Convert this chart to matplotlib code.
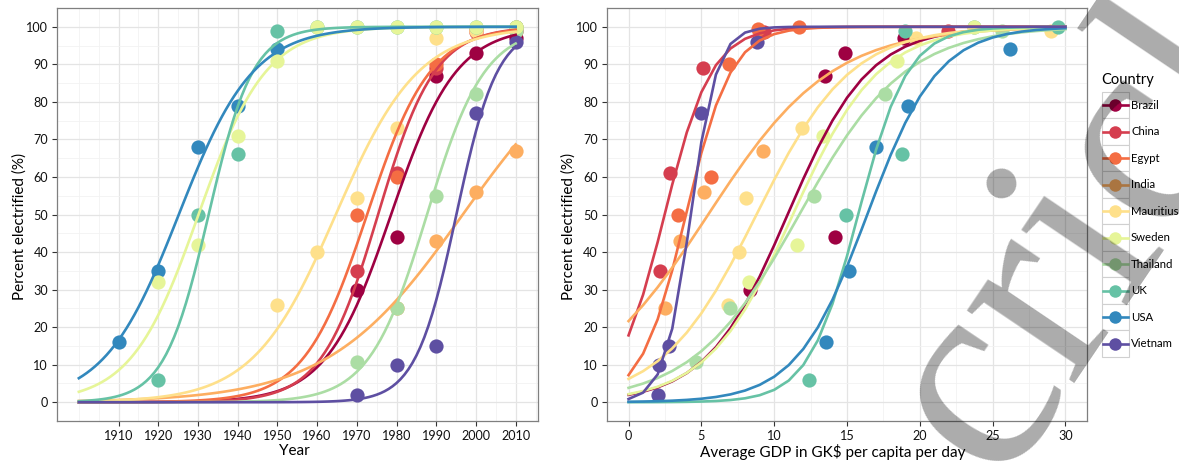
import numpy as np
import pandas as pd
import matplotlib
matplotlib.use("Agg")
import matplotlib.pyplot as plt
from matplotlib.patches import Rectangle
from matplotlib.lines import Line2D

countries = ["Brazil", "China", "Egypt", "India", "Mauritius", "Sweden",
             "Thailand", "UK", "USA", "Vietnam"]
palette = ["#9E0142", "#D53E4F", "#F46D43", "#FDAE61", "#FEE08B", "#E6F598",
           "#ABDDA4", "#66C2A5", "#3288BD", "#5E4FA2"]

# long format: one row per country-decade
country = (["Brazil"] * 5 + ["China"] * 5 + ["Egypt"] * 5 + ["India"] * 4
           + ["Mauritius"] * 7 + ["Sweden"] * 10 + ["Thailand"] * 5
           + ["UK"] * 10 + ["USA"] * 5 + ["Vietnam"] * 5)
year = ([1970, 1980, 1990, 2000, 2010]
        + [1970, 1980, 1990, 2000, 2010]
        + [1970, 1980, 1990, 2000, 2010]
        + [1980, 1990, 2000, 2010]
        + [1950, 1960, 1970, 1980, 1990, 2000, 2010]
        + [1920, 1930, 1940, 1950, 1960, 1970, 1980, 1990, 2000, 2010]
        + [1970, 1980, 1990, 2000, 2010]
        + [1920, 1930, 1940, 1950, 1960, 1970, 1980, 1990, 2000, 2010]
        + [1910, 1920, 1930, 1940, 1950]
        + [1970, 1980, 1990, 2000, 2010])
pct = ([30, 44, 87, 93, 97]
       + [35, 61, 89, 98.5, 99]
       + [50, 60, 90, 99.5, 100]
       + [25, 43, 56, 67]
       + [26, 40, 54.5, 73, 97, 99, 100]
       + [32, 42, 71, 91, 100, 100, 100, 100, 100, 100]
       + [10.8, 25, 55, 82, 99]
       + [6, 50, 66, 99, 100, 100, 100, 100, 100, 100]
       + [16, 35, 68, 79, 94]
       + [2, 10, 15, 77, 96])
gdp = ([8.35, 14.2, 13.5, 14.83, 18.9]
       + [2.13, 2.86, 5.1, 9.33, 21.96]
       + [3.43, 5.68, 6.89, 8.88, 11.67]
       + [2.52, 3.55, 5.15, 9.22]
       + [6.8, 7.6, 8.06, 11.94, 19.75, 29.0, np.nan]
       + [8.24, 11.6, 13.34, 18.44, 23.75, np.nan, np.nan, np.nan, np.nan, np.nan]
       + [4.65, 6.98, 12.7, 17.62, 25.67]
       + [12.42, 14.9, 18.76, 19.0, 23.7, 29.5, np.nan, np.nan, np.nan, np.nan]
       + [13.57, 15.17, 17.0, 19.2, 26.2]
       + [2.02, 2.06, 2.79, 4.99, 8.81])

df = pd.DataFrame({"country": country, "year": year, "pct": pct, "gdp": gdp})


def fit_logistic(x, p):
    # binomial glm with logit link, fitted by IRLS
    x = np.asarray(x, float)
    p = np.asarray(p, float) / 100.0
    xm = x.mean()
    X = np.column_stack([np.ones_like(x), x - xm])
    beta = np.zeros(2)
    for _ in range(100):
        eta = X @ beta
        mu = 1 / (1 + np.exp(-eta))
        w = np.clip(mu * (1 - mu), 1e-9, None)
        z = eta + (p - mu) / w
        beta = np.linalg.solve(X.T @ (X * w[:, None]), X.T @ (w * z))
    return lambda t: 100 / (1 + np.exp(-(beta[0] + beta[1] * (np.asarray(t) - xm))))


plt.rcParams["font.family"] = "Lato"
W, H = 1179, 463
fig = plt.figure(figsize=(W / 100, H / 100), dpi=100)


def px_axes(x0, y0, x1, y1):
    return fig.add_axes([x0 / W, 1 - y1 / H, (x1 - x0) / W, (y1 - y0) / H])


def style(ax, xmajor, xminor):
    ax.set_ylim(-5, 105)
    ax.set_yticks(range(0, 101, 10))
    ax.set_yticks(np.arange(-5, 106, 10), minor=True)
    ax.set_xticks(xmajor)
    ax.set_xticks(xminor, minor=True)
    ax.grid(which="major", color="#e4e4e4", lw=0.9)
    ax.grid(which="minor", color="#f2f2f2", lw=0.6)
    ax.set_axisbelow(True)
    for s in ax.spines.values():
        s.set_color("#7f7f7f")
        s.set_linewidth(0.9)
    ax.tick_params(which="major", length=3.5, width=0.8, color="#333333",
                   labelsize=9.1, labelcolor="#111111", pad=3)
    ax.tick_params(which="minor", length=0)
    ax.set_ylabel("Percent electrified (%)", fontsize=11)
    ax.yaxis.set_label_coords(-0.064, 0.47)


ax1 = px_axes(57, 8, 537.5, 421)
ax2 = px_axes(606.7, 8, 1087.3, 421)

style(ax1, range(1910, 2011, 10), np.arange(1900, 2016, 5))
ax1.set_xlim(1894.5, 2015.5)
ax1.set_xlabel("Year", fontsize=11, labelpad=1)
ax1.xaxis.set_label_coords(0.493, -0.055)

style(ax2, range(0, 31, 5), np.arange(2.5, 31, 5))
ax2.set_xlim(-1.5, 31.5)
ax2.set_xlabel("Average GDP in GK$ per capita per day", fontsize=11, labelpad=1)
ax2.xaxis.set_label_coords(0.471, -0.055)

yr_grid = np.arange(1900, 2011)
gdp_grid = np.arange(0, 31)

for name, col in zip(countries, palette):
    d = df[df.country == name]
    z = 2.5 if name == "Sweden" else 2
    ax1.scatter(d.year, d.pct, s=105, color=col, lw=0, zorder=z)
    dg = d.dropna(subset=["gdp"])
    ax2.scatter(dg.gdp, dg.pct, s=105, color=col, lw=0, zorder=z)

for name, col in zip(countries, palette):
    d = df[df.country == name]
    f1 = fit_logistic(d.year, d.pct)
    ax1.plot(yr_grid, f1(yr_grid), color=col, lw=1.9, zorder=3)
    dg = d.dropna(subset=["gdp"])
    f2 = fit_logistic(dg.gdp, dg.pct)
    ax2.plot(gdp_grid, f2(gdp_grid), color=col, lw=1.9, zorder=3)

# legend drawn in pixel space
lg = fig.add_axes([0, 0, 1, 1], zorder=5)
lg.set_xlim(0, W)
lg.set_ylim(H, 0)
lg.axis("off")
lg.text(1101.5, 80, "Country", fontsize=10.5, va="center", ha="left")
kx, kw, kh, ky0 = 1101.7, 27, 26.5, 91.8
for i, (name, col) in enumerate(zip(countries, palette)):
    top = ky0 + i * kh
    lg.add_patch(Rectangle((kx, top), kw, kh, facecolor="white",
                           edgecolor="#d0d0d0", lw=0.8))
    cy = top + kh / 2
    lg.add_line(Line2D([kx + 1, kx + kw - 1], [cy, cy], color=col, lw=1.9))
    lg.plot(kx + kw / 2, cy, "o", ms=9, color=col, mew=0)
    lg.text(1131, cy, name, fontsize=8.2, va="center", ha="left")

# grey watermark over the plot
fig.text(998 / W, 1 - 481 / H, "cricket", fontsize=202, family="Liberation Serif",
         rotation=56, rotation_mode="anchor", ha="left", va="baseline",
         color="black", alpha=0.33, zorder=10)

fig.savefig("out.png", dpi=100)
